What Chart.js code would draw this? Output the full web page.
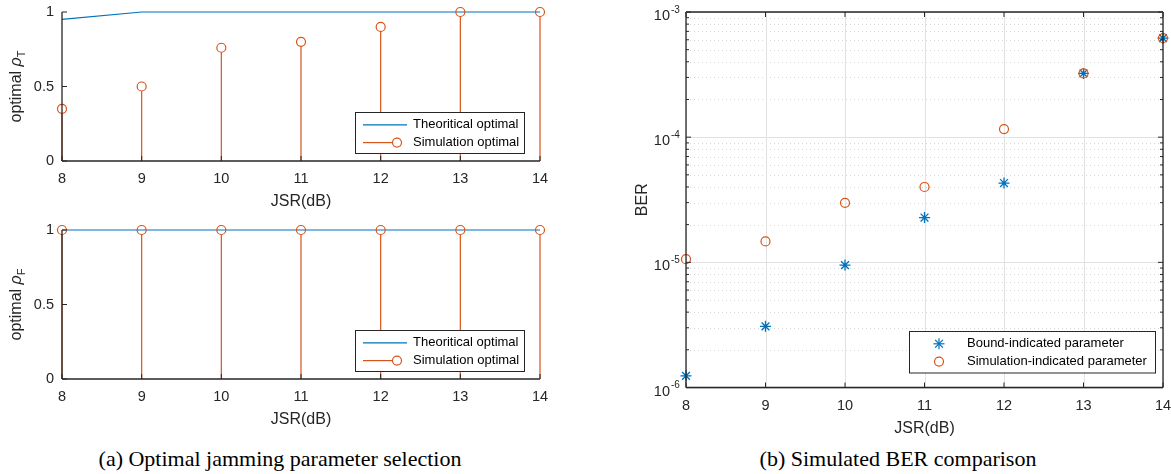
<!DOCTYPE html>
<html>
<head>
<meta charset="utf-8">
<script src="https://cdn.jsdelivr.net/npm/chart.js@4.4.1/dist/chart.umd.min.js"></script>
<style>
  body { margin: 0; background: #fff; width: 1171px; height: 474px; position: relative; overflow: hidden; }
  canvas { position: absolute; }
  .cap {
    position: absolute; top: 447px; line-height: 24px;
    font-family: "Liberation Serif", "Times New Roman", serif; font-size: 22px;
    color: #000; white-space: nowrap; transform: translateX(-50%);
  }
</style>
</head>
<body>
<canvas id="rhoT" width="560" height="210" style="left:0;top:0"></canvas>
<canvas id="rhoF" width="560" height="210" style="left:0;top:218px"></canvas>
<canvas id="ber" width="551" height="440" style="left:620px;top:0"></canvas>
<div class="cap" style="left:280px">(a) Optimal jamming parameter selection</div>
<div class="cap" style="left:898px">(b) Simulated BER comparison</div>
<script>
// JSR sweep (dB)
const jsr = [8, 9, 10, 11, 12, 13, 14];

// optimal time-domain jamming ratio
const rhoTTheory = [0.95, 1, 1, 1, 1, 1, 1];
const rhoTSim = [0.35, 0.5, 0.76, 0.8, 0.9, 1, 1];

// optimal frequency-domain jamming ratio
const rhoFTheory = [1, 1, 1, 1, 1, 1, 1];
const rhoFSim = [1, 1, 1, 1, 1, 1, 1];

// BER obtained with each parameter choice
const berBound = [1.24e-6, 3.08e-6, 9.5e-6, 2.28e-5, 4.3e-5, 3.23e-4, 6.19e-4];
const berSim = [1.06e-5, 1.47e-5, 2.99e-5, 4.0e-5, 1.16e-4, 3.23e-4, 6.19e-4];

const rhoTicks = [0, 0.5, 1];
const berDecades = [-6, -5, -4, -3];

const blue = '#0072BD';
const orange = '#D95319';
const axisColor = '#262626';
const sans = '"Liberation Sans", Arial, Helvetica, sans-serif';

Chart.defaults.font.family = sans;
Chart.defaults.font.size = 14.5;
Chart.defaults.color = axisColor;

const pairs = (xs, ys) => xs.map((x, i) => ({ x, y: ys[i] }));

function line(ctx, x1, y1, x2, y2) {
  ctx.beginPath();
  ctx.moveTo(x1, y1);
  ctx.lineTo(x2, y2);
  ctx.stroke();
}

function drawMarker(ctx, style, color, x, y, r) {
  ctx.save();
  ctx.strokeStyle = color;
  ctx.lineWidth = 1.2;
  if (style === 'star') {
    const d = r * Math.SQRT1_2;
    line(ctx, x - r, y, x + r, y);
    line(ctx, x, y - r, x, y + r);
    line(ctx, x - d, y - d, x + d, y + d);
    line(ctx, x - d, y + d, x + d, y - d);
  } else {
    ctx.beginPath();
    ctx.arc(x, y, r, 0, Math.PI * 2);
    ctx.stroke();
  }
  ctx.restore();
}

// axis label made of runs (normal / italic / subscript), drawn rotated
function drawYTitle(ctx, parts, cx, cy) {
  ctx.save();
  ctx.translate(cx, cy);
  ctx.rotate(-Math.PI / 2);
  const fonts = parts.map(p => `${p.italic ? 'italic ' : ''}${p.size}px ${sans}`);
  const widths = parts.map((p, i) => { ctx.font = fonts[i]; return ctx.measureText(p.text).width; });
  let x = -widths.reduce((a, b) => a + b, 0) / 2;
  ctx.fillStyle = axisColor;
  ctx.textAlign = 'left';
  ctx.textBaseline = 'middle';
  parts.forEach((p, i) => {
    ctx.font = fonts[i];
    ctx.fillText(p.text, x, p.sub ? 5 : 0);
    x += widths[i];
  });
  ctx.restore();
}

const titles = {
  rhoT: [{ text: 'optimal ', size: 16 }, { text: 'ρ', size: 16, italic: true }, { text: 'T', size: 11, sub: true }],
  rhoF: [{ text: 'optimal ', size: 16 }, { text: 'ρ', size: 16, italic: true }, { text: 'F', size: 11, sub: true }],
  ber: [{ text: 'BER', size: 16 }]
};

const matlabAxes = {
  id: 'matlabAxes',
  beforeDatasetsDraw(chart, args, opts) {
    const { ctx, chartArea: a, scales: { x, y } } = chart;
    ctx.save();
    if (opts.logGrid) {
      ctx.lineWidth = 1;
      ctx.strokeStyle = '#d6d6d6';
      ctx.setLineDash([1, 3]);
      for (let e = berDecades[0]; e < berDecades[berDecades.length - 1]; e++) {
        for (let m = 2; m <= 9; m++) {
          const py = Math.round(y.getPixelForValue(m * 10 ** e)) + 0.5;
          line(ctx, a.left, py, a.right, py);
        }
      }
      ctx.setLineDash([]);
      ctx.strokeStyle = '#e2e2e2';
      berDecades.forEach(e => {
        const py = Math.round(y.getPixelForValue(10 ** e)) + 0.5;
        line(ctx, a.left, py, a.right, py);
      });
      jsr.forEach(v => {
        const px = Math.round(x.getPixelForValue(v)) + 0.5;
        line(ctx, px, a.top, px, a.bottom);
      });
    }
    // stem lines from zero up to each marker
    chart.data.datasets.forEach((ds, i) => {
      if (!ds.stem) return;
      const y0 = y.getPixelForValue(0);
      ctx.strokeStyle = orange;
      ctx.lineWidth = 1.2;
      chart.getDatasetMeta(i).data.forEach(pt => line(ctx, pt.x, y0, pt.x, pt.y + ds.pointRadius));
    });
    ctx.restore();
  },
  afterDatasetsDraw(chart, args, opts) {
    const { ctx, chartArea: a, scales: { x, y } } = chart;
    ctx.save();
    ctx.strokeStyle = axisColor;
    ctx.lineWidth = 1.3;
    line(ctx, a.left, a.top, a.left, a.bottom);
    line(ctx, a.left, a.bottom, a.right, a.bottom);
    if (opts.box) {
      line(ctx, a.left, a.top, a.right, a.top);
      line(ctx, a.right, a.top, a.right, a.bottom);
    }
    ctx.lineWidth = 1;
    jsr.forEach(v => {
      const px = x.getPixelForValue(v);
      line(ctx, px, a.bottom, px, a.bottom - 5);
      if (opts.box) line(ctx, px, a.top, px, a.top + 5);
    });
    if (opts.logGrid) {
      for (let e = berDecades[0]; e <= berDecades[berDecades.length - 1]; e++) {
        for (let m = 1; m <= 9; m++) {
          if (e === berDecades[berDecades.length - 1] && m > 1) break;
          const py = y.getPixelForValue(m * 10 ** e);
          const len = m === 1 ? 5 : 3;
          line(ctx, a.left, py, a.left + len, py);
          line(ctx, a.right, py, a.right - len, py);
        }
      }
      // decade labels 10^n
      berDecades.forEach(e => {
        const py = y.getPixelForValue(10 ** e);
        ctx.fillStyle = axisColor;
        ctx.textBaseline = 'middle';
        ctx.font = `14.5px ${sans}`;
        ctx.textAlign = 'right';
        ctx.fillText('10', a.left - 16, py + 4);
        ctx.font = `10px ${sans}`;
        ctx.textAlign = 'left';
        ctx.fillText(String(e), a.left - 15, py - 2);
      });
    } else {
      rhoTicks.forEach(v => {
        const py = y.getPixelForValue(v);
        line(ctx, a.left, py, a.left + 5, py);
      });
    }

    // axis titles
    ctx.fillStyle = axisColor;
    ctx.font = `16px ${sans}`;
    ctx.textAlign = 'center';
    ctx.textBaseline = 'middle';
    ctx.fillText('JSR(dB)', (a.left + a.right) / 2, a.bottom + 41);
    drawYTitle(ctx, titles[chart.canvas.id], opts.yTitleX, (a.top + a.bottom) / 2);

    // legend
    const bx = a.right - opts.legendRight - opts.legendW;
    const by = a.bottom - opts.legendBottom - opts.legendH;
    ctx.fillStyle = '#fff';
    ctx.fillRect(bx, by, opts.legendW, opts.legendH);
    ctx.strokeStyle = axisColor;
    ctx.lineWidth = 1;
    ctx.strokeRect(Math.round(bx) + 0.5, Math.round(by) + 0.5, opts.legendW, opts.legendH);
    ctx.font = `13px ${sans}`;
    ctx.textAlign = 'left';
    ctx.textBaseline = 'middle';
    chart.data.datasets.forEach((ds, i) => {
      const ry = by + (i === 0 ? 12.8 : 30.6);
      if (opts.logGrid) {
        drawMarker(ctx, ds.pointStyle, ds.pointBorderColor, bx + 30, ry, ds.pointRadius);
      } else if (ds.stem) {
        ctx.strokeStyle = orange;
        ctx.lineWidth = 1.2;
        line(ctx, bx + 8, ry, bx + 37, ry);
        drawMarker(ctx, 'circle', orange, bx + 42, ry, 4.5);
      } else {
        ctx.strokeStyle = blue;
        ctx.lineWidth = 1.2;
        line(ctx, bx + 8, ry, bx + 52, ry);
      }
      ctx.fillStyle = '#000';
      ctx.fillText(ds.label, bx + 58, ry);
    });
    ctx.restore();
  }
};

// keep the plot area fixed: no extra room for edge tick labels
const fixX = h => s => { s.height = h; s.paddingLeft = 0; s.paddingRight = 0; };
const fixY = w => s => { s.width = w; s.paddingTop = 0; s.paddingBottom = 0; };

function rhoChart(id, theory, sim) {
  return new Chart(document.getElementById(id), {
    data: {
      datasets: [
        {
          type: 'line', label: 'Theoritical optimal', data: pairs(jsr, theory),
          borderColor: blue, borderWidth: 1.2, pointRadius: 0, clip: false, order: 1
        },
        {
          type: 'line', label: 'Simulation optimal', data: pairs(jsr, sim), showLine: false, stem: true,
          pointStyle: 'circle', pointRadius: 4.5, pointBorderWidth: 1.2,
          pointBorderColor: orange, borderColor: orange, pointBackgroundColor: 'rgba(255,255,255,0)',
          clip: false, order: 0
        }
      ]
    },
    options: {
      responsive: false,
      animation: false,
      layout: { padding: { top: 12, right: 20, left: 0, bottom: 0 } },
      plugins: {
        legend: { display: false },
        tooltip: { enabled: false },
        matlabAxes: { box: false, logGrid: false, yTitleX: 17, legendW: 169, legendH: 41, legendRight: 16, legendBottom: 8 }
      },
      scales: {
        x: {
          type: 'linear', min: 8, max: 14,
          ticks: { stepSize: 1, padding: 9.5 },
          grid: { display: false, drawTicks: false }, border: { display: false },
          afterFit: fixX(49)
        },
        y: {
          type: 'linear', min: 0, max: 1,
          ticks: { stepSize: 0.5, padding: 8, callback: v => String(v) },
          grid: { display: false, drawTicks: false }, border: { display: false },
          afterFit: fixY(62)
        }
      }
    },
    plugins: [matlabAxes]
  });
}

rhoChart('rhoT', rhoTTheory, rhoTSim);
rhoChart('rhoF', rhoFTheory, rhoFSim);

new Chart(document.getElementById('ber'), {
  data: {
    datasets: [
      {
        type: 'line', label: 'Bound-indicated parameter', data: pairs(jsr, berBound), showLine: false,
        pointStyle: 'star', pointRadius: 5.5, pointBorderWidth: 1.3,
        pointBorderColor: blue, borderColor: blue, clip: false, order: 1
      },
      {
        type: 'line', label: 'Simulation-indicated parameter', data: pairs(jsr, berSim), showLine: false,
        pointStyle: 'circle', pointRadius: 4.5, pointBorderWidth: 1.2,
        pointBorderColor: orange, borderColor: orange, pointBackgroundColor: 'rgba(255,255,255,0)',
        clip: false, order: 0
      }
    ]
  },
  options: {
    responsive: false,
    animation: false,
    layout: { padding: { top: 12, right: 8, left: 0, bottom: 0 } },
    plugins: {
      legend: { display: false },
      tooltip: { enabled: false },
      matlabAxes: { box: true, logGrid: true, yTitleX: 23, legendW: 246, legendH: 41.5, legendRight: 8, legendBottom: 15 }
    },
    scales: {
      x: {
        type: 'linear', min: 8, max: 14,
        ticks: { stepSize: 1, padding: 9.5 },
        grid: { display: false, drawTicks: false }, border: { display: false },
        afterFit: fixX(52.5)
      },
      y: {
        type: 'logarithmic', min: 1e-6, max: 1e-3,
        ticks: { display: false },
        grid: { display: false, drawTicks: false }, border: { display: false },
        afterFit: fixY(66)
      }
    }
  },
  plugins: [matlabAxes]
});
</script>
</body>
</html>
